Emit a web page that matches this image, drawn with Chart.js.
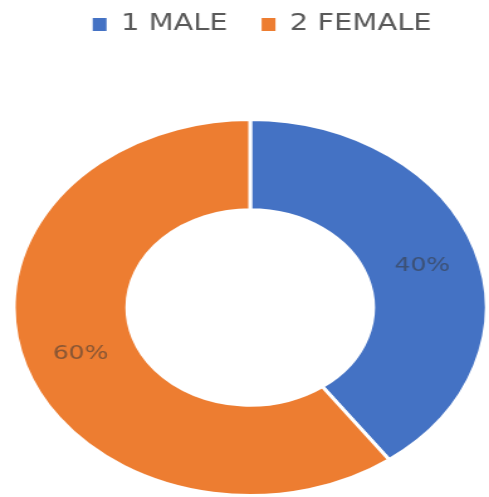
<!DOCTYPE html>
<html>
<head>
<meta charset="utf-8">
<script src="https://cdn.jsdelivr.net/npm/chart.js@4/dist/chart.umd.min.js"></script>
<style>
  html, body { margin: 0; padding: 0; background: #ffffff; overflow: hidden; }
  /* the chart is drawn narrow and widened on screen, giving the oval ring */
  #wrap { width: 389px; height: 497px; transform: scaleX(1.2571); transform-origin: 0 0; }
  canvas { display: block; }
</style>
</head>
<body>
<div id="wrap"><canvas id="chart" width="389" height="497"></canvas></div>
<script>
// Respondents by gender
const categories = ['1 MALE', '2 FEMALE'];
const shares = [40, 60];               // percent
const sliceColors = ['#4472C4', '#ED7D31'];

const FONT = "'DejaVu Sans', sans-serif";

// Reserve a band at the top for the legend and nudge it into place
const legendBand = {
  id: 'legendBand',
  beforeLayout(chart) {
    const legend = chart.legend;
    if (legend && !legend._bandPatched) {
      const fit = legend.fit;
      legend.fit = function () {
        fit.call(this);
        this.height = 118;
      };
      legend._bandPatched = true;
    }
  },
  beforeDraw(chart) {
    chart.ctx.save();
    chart.ctx.translate(9.5, -14);
  },
  beforeDatasetsDraw(chart) {
    chart.ctx.restore();
  }
};

// Percentage labels placed in the middle of each slice
const sliceLabels = {
  id: 'sliceLabels',
  afterDatasetsDraw(chart) {
    const ctx = chart.ctx;
    const meta = chart.getDatasetMeta(0);
    const data = chart.data.datasets[0].data;
    ctx.save();
    ctx.font = '20px ' + FONT;
    ctx.textAlign = 'center';
    ctx.textBaseline = 'middle';
    ctx.fillStyle = 'rgba(55, 55, 55, 0.55)';
    meta.data.forEach((arc, i) => {
      const p = arc.tooltipPosition();
      ctx.fillText(data[i] + '%', p.x + 1, p.y + 2);
    });
    ctx.restore();
  }
};

new Chart(document.getElementById('chart'), {
  type: 'doughnut',
  data: {
    labels: categories,
    datasets: [{
      data: shares,
      backgroundColor: sliceColors,
      borderColor: '#ffffff',
      borderWidth: 3,
      hoverOffset: 0
    }]
  },
  options: {
    responsive: false,
    animation: false,
    cutout: '52%',
    layout: { padding: { left: 9.5, right: 0.5, top: 0, bottom: -2 } },
    plugins: {
      tooltip: { enabled: false },
      legend: {
        position: 'top',
        labels: {
          color: '#595959',
          font: { family: FONT, size: 23 },
          boxWidth: 11,
          boxHeight: 13,
          padding: 27,
          generateLabels(chart) {
            const items = Chart.overrides.doughnut.plugins.legend.labels.generateLabels(chart);
            items.forEach(it => { it.lineWidth = 0; it.strokeStyle = 'rgba(0,0,0,0)'; });
            return items;
          }
        }
      }
    }
  },
  plugins: [legendBand, sliceLabels]
});
</script>
</body>
</html>
